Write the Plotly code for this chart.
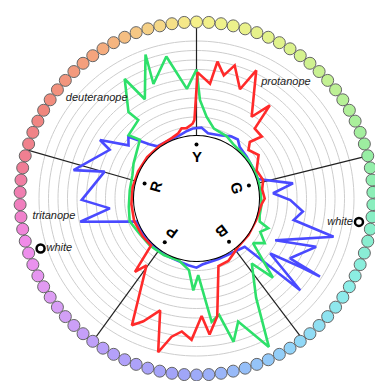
import numpy as np
import plotly.graph_objects as go

# ---------------- data ----------------
# hue ring (90 hue samples, angle in degrees, counter-clockwise from east)
ring_theta = [2 + 4 * k for k in range(90)]

# principal hue letters and their hue angles
hue_letters = ["Y", "G", "B", "P", "R"]
hue_theta = [90, 14, -53, -126, 164]

# protanope (red)
protan_theta = [200, 185, 170, 155, 140, 125, 112, 105.6, 102, 98, 93, 91.5, 89.5, 83.3, 81.3, 77.5, 74,
                68.3, 65, 56, 51.8, 50.2, 43.5, 46.7, 43, 35, 25, 15.5, 8, 0, -5, -20, -35, -50, -56, -63,
                -72, -80, -84.5, -87.5, -92, -96.3, -100.2, -104, -108, -113.4, -117, -126.8, -130, -134,
                -145, -160]
protan_r = [0.4, 0.3, 0.25, 0.2, 0.2, 0.2, 0.3, 0.55, 0.97, 0.9, 1.3, 1.7, 6.7, 5.6, 8.0, 6.7, 8.0,
            5.8, 8.3, 3.8, 5.9, 3.0, 2.9, 1.6, 0.9, 1.4, 0.4, 0.7, 0.4, 0.6, 0.3, 0.1, 0.1, 0.15, 0.4, 0.8,
            0.9, 6.0, 7.8, 5.8, 8.3, 7.5, 8.2, 10.1, 5.8, 7.5, 8.4, 2.2, 3.5, 0.3,
            0.35, 0.4]

# deuteranope (green)
deutan_theta = [200, 187, 173, 160, 151, 134, 137, 126.6, 128.2, 121, 117.5, 109.5, 110.6, 102, 95, 90,
                88, 83, 76, 64, 55, 45, 35, 25, 15, 5, -5, -15, -20, -22.5, -27.6, -33.2, -38.3, -46,
                -49.6, -59, -64, -71.3, -75.5, -79, -83, -88.7, -92, -96, -106, -120, -135, -150, -160]
deutan_r = [0.9, 0.6, 0.5, 0.6, 1.0, 2.0, 3.2, 3.7, 5.0, 8.1, 5.2, 9.5, 6.3, 8.7, 5.0, 7.0,
            3.8, 2.1, 1.0, 0.7, 0.3, 0.2, 0.2, 0.2, 0.2, 0.2, 0.3, 0.3, 0.5, 1.6, 1.0, 2.0, 1.0, 5.0,
            2.4, 5.6, 10.8, 7.1, 9.0, 5.9, 6.5, 1.5, 3.1, 1.0, 0.2, 0.3, 0.4, 0.5, 0.8]

# tritanope (blue)
tritan_theta = [-155, -140, -120, -105, -97, -90, -85, -70, -55, -45, -41.5, -36.7, -33.4, -32.3, -32.6,
                -22, -28, -15.6, -12.5, -7, -1, 3.9, 8.9, 17.6, 25, 40, 50, 55, 61, 70, 80, 86, 93, 98,
                105, 115, 127, 131, 137.8, 142, 148.8, 150.7, 167, 163.7, 180.7, 186.5, 191.3, 201]
tritan_r = [0.2, 0.2, 0.25, 0.3, 0.5, 0.7, 0.4, 0.2, 0.3, 0.6, 8.0, 3.1, 6.5, 8.8, 5.1,
            7.0, 2.8, 8.4, 3.9, 4.7, 3.3, 1.5, 3.7, 0.2, 0.2, 0.3, 0.5, 1.0, 0.9, 0.5, 0.4, 0.9, 0.8, 0.6,
            0.3, 0.2, 0.3, 1.0, 3.1, 2.5, 5.3, 3.9, 6.7, 3.5, 5.5, 2.6, 5.9, 0.2]

# white points
white_theta = [-162.2, -8.2]
white_r = [10.66, 10.7]

# series labels
label_text = ["deuteranope", "protanope", "tritanope"]
label_theta = [134.9, 52.5, -173]
label_r = [8.3, 8.88, 8.54]

grid_vals = list(range(1, 11))
R_MAX = 12
HOLE = 62.5 / 176.5

# ---------------- ring colours (style) ----------------
anchors = [(0, (245, 240, 138)), (30, (222, 242, 140)), (55, (185, 240, 150)), (75, (152, 238, 162)),
           (95, (135, 238, 195)), (120, (140, 238, 232)), (145, (145, 215, 248)), (165, (150, 190, 248)),
           (185, (160, 165, 248)), (210, (182, 160, 250)), (235, (220, 158, 245)), (255, (240, 140, 235)),
           (265, (240, 128, 200)), (280, (240, 125, 150)), (300, (240, 135, 125)), (325, (245, 165, 125)),
           (345, (245, 210, 135)), (360, (245, 240, 138))]


def ring_color(theta):
    cw = (90 - theta) % 360
    for (a0, c0), (a1, c1) in zip(anchors[:-1], anchors[1:]):
        if a0 <= cw <= a1:
            t = (cw - a0) / (a1 - a0)
            c = [round(c0[i] + t * (c1[i] - c0[i])) for i in range(3)]
            return f"rgb({c[0]},{c[1]},{c[2]})"
    return "rgb(245,240,138)"


ring_colors = [ring_color(t) for t in ring_theta]
circle_theta = list(range(0, 361, 2))

fig = go.Figure()

# grid circles
for g in grid_vals:
    fig.add_trace(go.Scatterpolar(r=[g] * len(circle_theta), theta=circle_theta, mode="lines",
                                  line=dict(color="#cdcdcd", width=1), hoverinfo="skip",
                                  showlegend=False, cliponaxis=False))

# spokes
for th in hue_theta:
    fig.add_trace(go.Scatterpolar(r=[0, R_MAX], theta=[th, th], mode="lines",
                                  line=dict(color="#222", width=1.2), hoverinfo="skip",
                                  showlegend=False, cliponaxis=False))

# ring
fig.add_trace(go.Scatterpolar(r=[R_MAX] * len(ring_theta), theta=ring_theta, mode="markers",
                              marker=dict(size=12, color=ring_colors, line=dict(color="#666", width=1)),
                              showlegend=False, cliponaxis=False, hoverinfo="skip"))

# series
for th, rr, col in [(tritan_theta, tritan_r, "#4a4aff"), (deutan_theta, deutan_r, "#2ee06a"),
                    (protan_theta, protan_r, "#ff2a2a")]:
    fig.add_trace(go.Scatterpolar(r=rr + [rr[0]], theta=th + [th[0]], mode="lines",
                                  line=dict(color=col, width=2.6), showlegend=False,
                                  cliponaxis=False, hoverinfo="skip"))

# hole border
fig.add_trace(go.Scatterpolar(r=[0] * len(circle_theta), theta=circle_theta, mode="lines",
                              line=dict(color="black", width=2), showlegend=False,
                              cliponaxis=False, hoverinfo="skip"))

# white points
fig.add_trace(go.Scatterpolar(r=white_r, theta=white_theta, mode="markers+text",
                              text=["white", "white"], textposition=["middle right", "middle left"],
                              textfont=dict(family="Liberation Sans", size=11, color="#222", style="italic"),
                              marker=dict(symbol="circle-open", size=8, color="black",
                                          line=dict(width=2.5, color="black")),
                              showlegend=False, cliponaxis=False, hoverinfo="skip"))

# labels
fig.add_trace(go.Scatterpolar(r=label_r, theta=label_theta, mode="text", text=label_text,
                              textfont=dict(family="Liberation Sans", size=11, color="#222", style="italic"),
                              showlegend=False, cliponaxis=False, hoverinfo="skip"))

# letters and dots inside the hole (cartesian overlay, unit = polar radius)
rho_letter = 42 / 176.5
rho_dot = 54 / 176.5
ht = np.radians(hue_theta)
fig.add_trace(go.Scatter(x=rho_dot * np.cos(ht), y=rho_dot * np.sin(ht), mode="markers",
                         marker=dict(size=4, color="black"), showlegend=False, hoverinfo="skip",
                         xaxis="x", yaxis="y"))
for L, th in zip(hue_letters, hue_theta):
    fig.add_annotation(x=rho_letter * np.cos(np.radians(th)), y=rho_letter * np.sin(np.radians(th)),
                       xref="x", yref="y", text=f"<b>{L}</b>", showarrow=False,
                       textangle=90 - th, font=dict(family="Liberation Sans", size=15, color="black"))

dom_x = [20 / 375, 373 / 375]
dom_y = [6 / 381, 359 / 381]
fig.update_layout(
    width=375, height=381, margin=dict(l=0, r=0, t=0, b=0),
    paper_bgcolor="white", plot_bgcolor="rgba(0,0,0,0)",
    polar=dict(domain=dict(x=dom_x, y=dom_y), hole=HOLE, bgcolor="white",
               radialaxis=dict(range=[0, R_MAX], showgrid=False, showticklabels=False,
                               ticks="", showline=False),
               angularaxis=dict(rotation=0, direction="counterclockwise", showgrid=False,
                                showticklabels=False, ticks="", showline=False)),
    xaxis=dict(domain=dom_x, range=[-1, 1], visible=False, fixedrange=True),
    yaxis=dict(domain=dom_y, range=[-1, 1], visible=False, fixedrange=True),
)

fig.write_html("out.html", config={"displayModeBar": False},
               post_script="document.body.style.margin='0';document.body.style.overflow='hidden';")
